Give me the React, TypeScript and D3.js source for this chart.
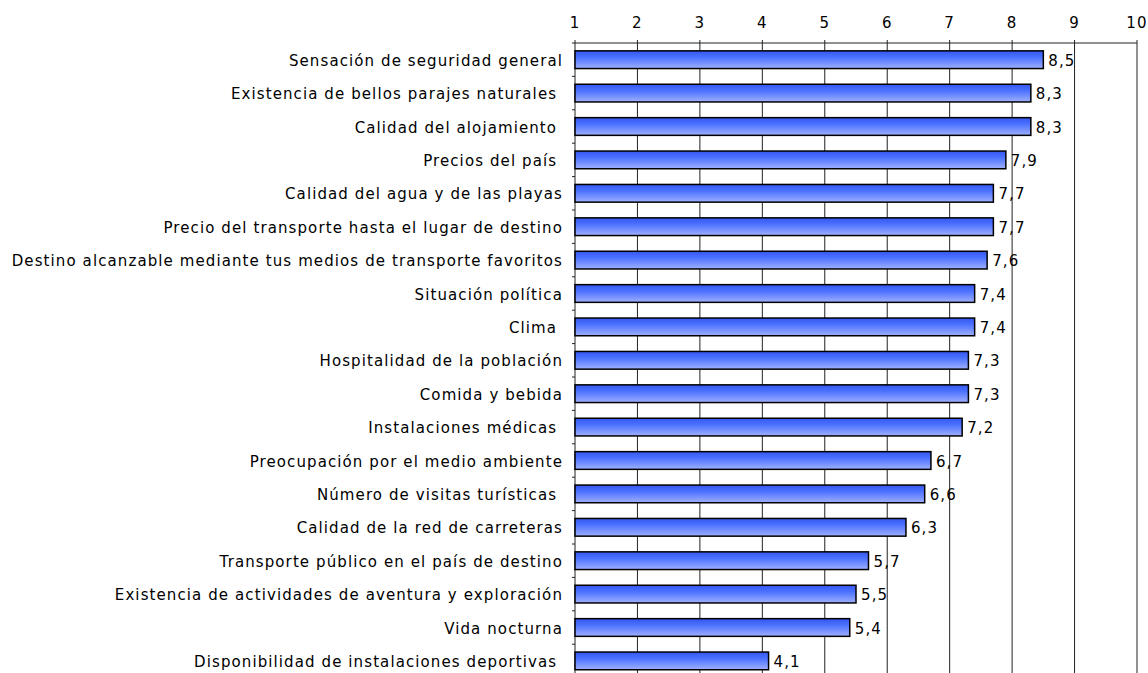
import * as d3 from "d3";

const categories = [
  "Sensación de seguridad general",
  "Existencia de bellos parajes naturales ",
  "Calidad del alojamiento ",
  "Precios del país ",
  "Calidad del agua y de las playas",
  "Precio del transporte hasta el lugar de destino",
  "Destino alcanzable mediante tus medios de transporte favoritos",
  "Situación política",
  "Clima ",
  "Hospitalidad de la población",
  "Comida y bebida",
  "Instalaciones médicas ",
  "Preocupación por el medio ambiente",
  "Número de visitas turísticas ",
  "Calidad de la red de carreteras",
  "Transporte público en el país de destino",
  "Existencia de actividades de aventura y exploración",
  "Vida nocturna",
  "Disponibilidad de instalaciones deportivas ",
];

const values = [8.5, 8.3, 8.3, 7.9, 7.7, 7.7, 7.6, 7.4, 7.4, 7.3, 7.3, 7.2, 6.7, 6.6, 6.3, 5.7, 5.5, 5.4, 4.1];

const xTicks = [1, 2, 3, 4, 5, 6, 7, 8, 9, 10];

const W = 1148;
const H = 673;
const left = 575;
const right = 1137;
const top = 43;
const step = 33.4;

const font = "'DejaVu Sans', Verdana, sans-serif";
const fs = 15;
const ls = 1.1;

export default function App() {
  const x = d3.scaleLinear().domain([1, 10]).range([left, right]);
  const y = d3
    .scaleBand<string>()
    .domain(categories)
    .range([top, top + categories.length * step])
    .paddingInner(0.47)
    .paddingOuter(0.235);
  const fmt = (v: number) => d3.format(".1f")(v).replace(".", ",");
  const bottom = top + categories.length * step;

  return (
    <svg
      width={W}
      height={H}
      style={{ position: "absolute", left: 0, top: 0, background: "#fff" }}
    >
      <defs>
        <linearGradient id="barGrad" x1="0" y1="0" x2="0" y2="1">
          <stop offset="0" stopColor="#3457ee" />
          <stop offset="0.35" stopColor="#4a70ff" />
          <stop offset="1" stopColor="#9fb0ff" />
        </linearGradient>
      </defs>

      {/* grid */}
      {xTicks.slice(1).map((t) => (
        <line key={"g" + t} x1={x(t)} x2={x(t)} y1={top - 3} y2={bottom} stroke="#222" strokeWidth={1} />
      ))}
      <line x1={left - 3} x2={right} y1={top} y2={top} stroke="#222" strokeWidth={1} />
      <line x1={left} x2={left} y1={top - 3} y2={bottom} stroke="#222" strokeWidth={1} />

      {/* category ticks */}
      {categories.map((c, i) => (
        <line key={"ct" + i} x1={left - 3} x2={left} y1={top + (i + 1) * step} y2={top + (i + 1) * step} stroke="#222" />
      ))}

      {/* x tick labels */}
      {xTicks.map((t) => (
        <text key={"t" + t} x={x(t)} y={28} textAnchor="middle" fontFamily={font} fontSize={fs} letterSpacing={ls} fill="#000">
          {t}
        </text>
      ))}

      {/* bars */}
      {categories.map((c, i) => (
        <rect
          key={"b" + i}
          x={x(1)}
          y={y(c)!}
          width={x(values[i]) - x(1)}
          height={y.bandwidth()}
          fill="url(#barGrad)"
          stroke="#000"
          strokeWidth={1.5}
        />
      ))}

      {/* value labels */}
      {categories.map((c, i) => (
        <text
          key={"v" + i}
          x={x(values[i]) + 5}
          y={y(c)! + y.bandwidth() / 2 + 6}
          fontFamily={font}
          fontSize={fs}
          letterSpacing={ls}
          fill="#000"
        >
          {fmt(values[i])}
        </text>
      ))}

      {/* category labels */}
      {categories.map((c, i) => (
        <text
          key={"l" + i}
          x={563}
          y={y(c)! + y.bandwidth() / 2 + 6}
          textAnchor="end"
          fontFamily={font}
          fontSize={fs}
          letterSpacing={ls}
          fill="#000"
          style={{ whiteSpace: "pre" }}
        >
          {c}
        </text>
      ))}
    </svg>
  );
}
